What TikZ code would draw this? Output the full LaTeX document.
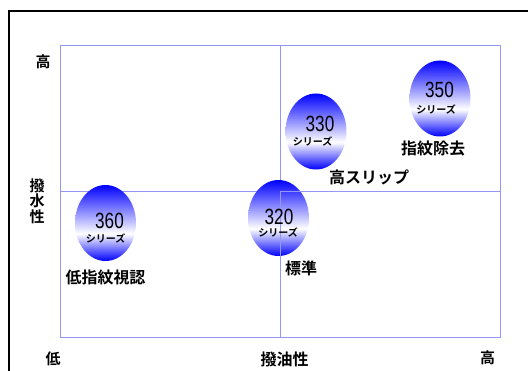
\documentclass[tikz,border=0pt]{standalone}
\usepackage{fontspec}
\usetikzlibrary{shapes.geometric}
\newfontfamily\jpb{Noto Sans CJK JP Bold}
\newfontfamily\numf[FakeStretch=0.78]{Liberation Sans}
\definecolor{gridc}{RGB}{150,150,245}
\pgfdeclareverticalshading{ballshade}{100bp}{%
  color(0bp)=(blue); color(25bp)=(blue); color(43bp)=(white);
  color(75bp)=(blue); color(100bp)=(blue)}
\tikzset{
  x=1pt, y=-1pt,
  gridline/.style={draw=gridc, line width=0.9pt},
  ball/.style={ellipse, minimum width=61pt, minimum height=76pt, inner sep=0pt,
     shading=ballshade},
  num/.style={font=\numf\fontsize{22}{22}\selectfont, inner sep=0pt},
  ser/.style={font=\jpb\fontsize{10}{10}\selectfont, inner sep=0pt},
  lab/.style={font=\jpb\fontsize{16}{16}\selectfont, inner sep=0pt},
  axl/.style={font=\jpb\fontsize{15}{15}\selectfont, inner sep=0pt},
}
\begin{document}
\begin{tikzpicture}
\useasboundingbox (0,0) rectangle (528,371);
\fill[white] (0,0) rectangle (528,371);
% outer frame
\draw[line width=1.6pt] (9,372) -- (9,11) -- (529,11);
% grid (under the balls)
\coordinate (tl) at (60,45);
\coordinate (tr) at (500.5,45);
\coordinate (bl) at (60,337);
\coordinate (br) at (500.5,337);
\coordinate (c) at (280.5,191);
\draw[gridline] (tl) rectangle (br);
\draw[gridline] (c |- tl) -- (c);
\draw[gridline] (tl |- c) -- (c);
% balls
\node[ball] (b350) at (440,98.5) {};
\node[ball] (b330) at (316,131.5) {};
\node[ball] (b320) at (278.5,218) {};
\node[ball] (b360) at (105.5,223) {};
% lower-right quadrant edges over the balls
\draw[gridline] (c) -- (c |- bl);
\draw[gridline] (c) -- (tr |- c);
% ball texts
\node[num] (n350) at (439.5,90) {350};
\node[ser] (s350) at (436,110) {シリーズ};
\node[num] (n330) at (320,124) {330};
\node[ser] (s330) at (312.5,141.5) {シリーズ};
\node[num] (n320) at (279,217) {320};
\node[ser] (s320) at (278,233) {シリーズ};
\node[num] (n360) at (109.5,220.5) {360};
\node[ser] (s360) at (105.5,239) {シリーズ};
% labels
\node[lab] (l350) at (433,149) {指紋除去};
\node[lab] (l330) at (369,177) {高スリップ};
\node[lab] (l320) at (301,268.5) {標準};
\node[lab] (l360) at (105.5,277) {低指紋視認};
% axis labels
\node[axl] (yh) at (43,61.5) {高};
\node[axl] (yl1) at (37,185.5) {撥};
\node[axl] (yl2) at (37,201) {水};
\node[axl] (yl3) at (37,216.5) {性};
\node[axl] (xl) at (53,358.5) {低};
\node[axl, font=\jpb\fontsize{16}{16}\selectfont] (xt) at (284.5,359.5) {撥油性};
\node[axl] (xh) at (487.5,358) {高};
\end{tikzpicture}
\end{document}
